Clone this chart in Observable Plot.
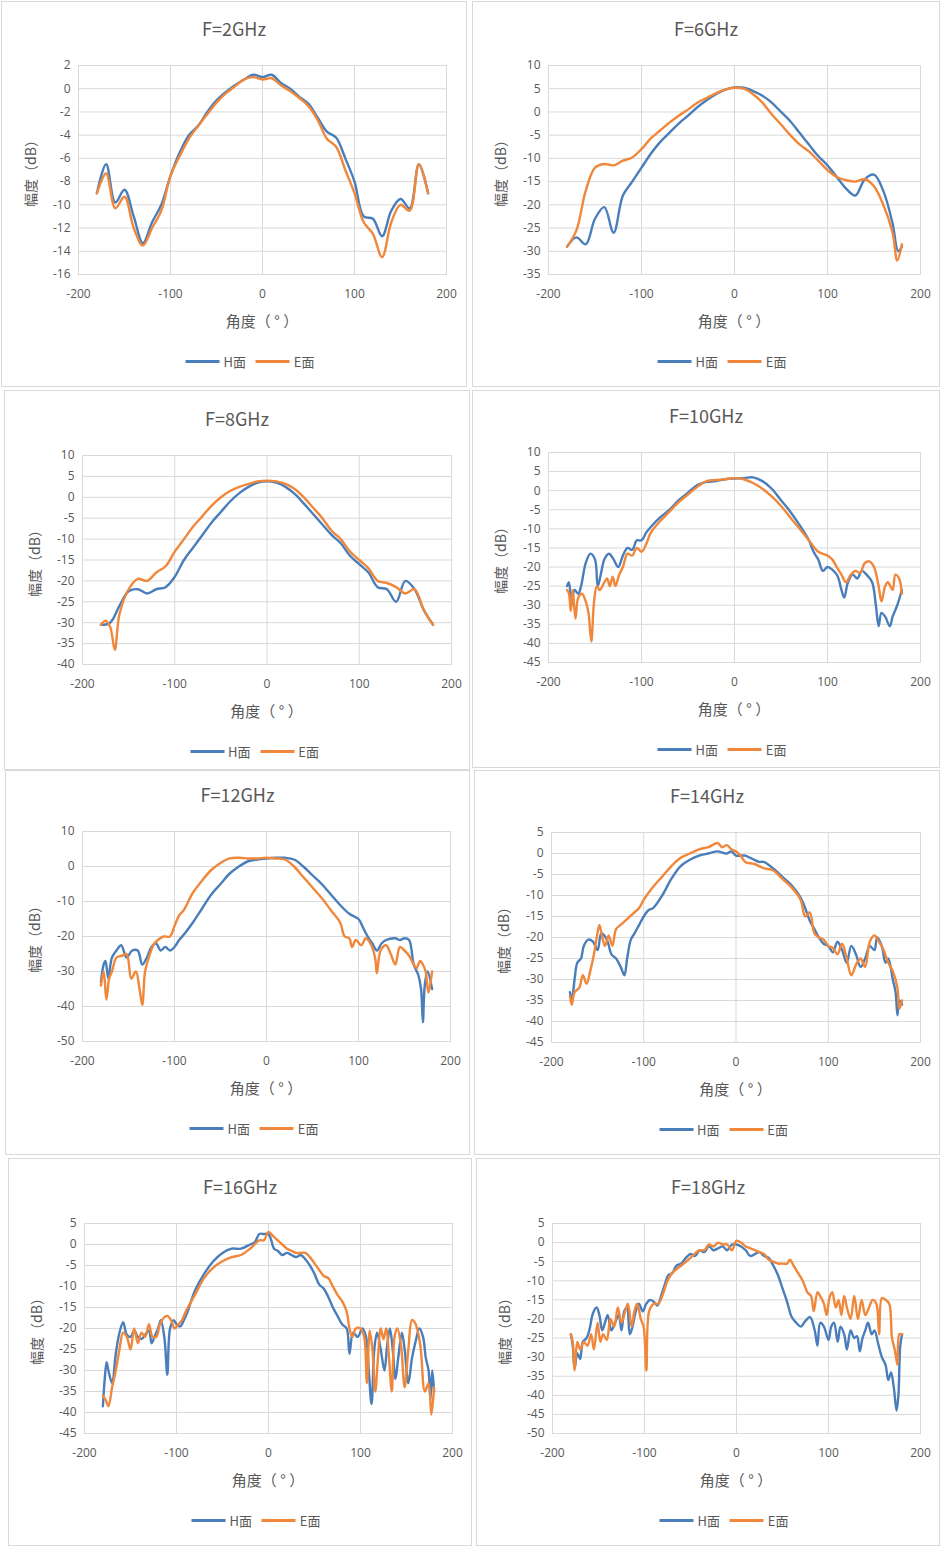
<!DOCTYPE html>
<html><head><meta charset="utf-8">
<script src="https://cdn.jsdelivr.net/npm/d3@7"></script>
<script src="https://cdn.jsdelivr.net/npm/@observablehq/plot@0.6"></script>
<style>
body{margin:0;background:#fff;font-family:"Noto Sans CJK SC","Open Sans",sans-serif;}
#root{position:relative;width:941px;height:1547px;}
.panel{position:absolute;border:1px solid #d9d9d9;box-sizing:border-box;}
.abs{position:absolute;color:#595959;white-space:nowrap;}
.title{font-size:18px;transform:translateX(-50%);}
.xl{font-size:15px;transform:translateX(-50%);}
.yl{font-size:14px;transform:translate(-50%,-50%) rotate(-90deg);}
.leg{font-size:13px;transform:translateX(-50%);display:flex;align-items:center;gap:4px;}
.sw{display:inline-block;width:34px;height:3px;}
</style></head><body><div id="root"></div>
<script>
const titles=["F=2GHz","F=6GHz","F=8GHz","F=10GHz","F=12GHz","F=14GHz","F=16GHz","F=18GHz"];
const seriesNames=["H面","E面"];
const xTicks=[-200,-100,0,100,200];
const yDomains=[[-16,2],[-35,10],[-40,10],[-45,10],[-50,10],[-45,5],[-45,5],[-50,5]];
const yStep=[2,5,5,5,10,5,5,5];

const h2=[[-180,-9],[-170,-6.5],[-160,-9.8],[-150,-8.7],[-140,-11],[-130,-13.3],[-120,-11.5],[-110,-10],[-100,-7.5],[-90,-5.5],[-80,-4],[-70,-3.2],[-60,-2],[-50,-1],[-40,-0.3],[-30,0.3],[-20,0.8],[-10,1.2],[0,1],[10,1.2],[20,0.5],[30,0],[40,-0.7],[50,-1.3],[60,-2.5],[70,-3.7],[80,-4.2],[90,-6],[100,-8],[110,-11],[120,-11.2],[130,-12.7],[140,-10.5],[150,-9.5],[160,-10.3],[170,-6.5],[180,-9]];
const e2=[[-180,-9],[-170,-7.3],[-160,-10.3],[-150,-9.3],[-140,-12],[-130,-13.5],[-120,-12],[-110,-10.5],[-100,-7.5],[-90,-5.8],[-80,-4.3],[-70,-3.2],[-60,-2.2],[-50,-1.2],[-40,-0.4],[-30,0.2],[-20,0.8],[-10,1.0],[0,0.8],[10,0.9],[20,0.3],[30,-0.2],[40,-0.8],[50,-1.5],[60,-2.7],[70,-4.3],[80,-5],[90,-7],[100,-9],[110,-11.5],[120,-12.5],[130,-14.5],[140,-11.5],[150,-10],[160,-10.5],[170,-6.5],[180,-9]];
const h6=[[-180,-29],[-170,-27],[-160,-28.5],[-150,-23],[-140,-20.5],[-130,-26],[-120,-18],[-110,-15],[-100,-12],[-90,-9],[-80,-6.5],[-70,-4.5],[-60,-2.5],[-50,-0.8],[-40,1],[-30,2.5],[-20,3.8],[-10,4.8],[0,5.3],[10,5.2],[20,4.5],[30,3.5],[40,2],[50,0],[60,-2],[70,-4.5],[80,-7],[90,-9.5],[100,-11.5],[110,-14],[120,-16.5],[130,-18],[140,-14.5],[150,-13.5],[160,-17],[170,-24],[176,-30],[180,-29]];
const e6=[[-180,-29],[-170,-25.5],[-160,-17],[-150,-12],[-140,-11.2],[-130,-11.5],[-120,-10.5],[-110,-9.8],[-100,-8],[-90,-5.7],[-80,-4],[-70,-2.3],[-60,-0.8],[-50,0.5],[-40,2],[-30,3],[-20,4],[-10,4.8],[0,5.2],[10,5],[20,3.8],[30,2],[40,-0.5],[50,-2.7],[60,-5],[70,-7],[80,-8.5],[90,-10.5],[100,-12.5],[110,-14],[120,-14.7],[130,-15],[140,-14.5],[150,-16],[160,-20],[170,-26],[175,-32],[180,-28.5]];
const h8=[[-180,-30.5],[-170,-30],[-160,-26],[-150,-22.5],[-140,-22],[-130,-23],[-120,-22],[-110,-21.5],[-100,-19],[-90,-15],[-80,-12],[-70,-9],[-60,-6],[-50,-3.5],[-40,-1],[-30,1],[-20,2.5],[-10,3.5],[0,3.8],[10,3.5],[20,2.5],[30,0.8],[40,-1.5],[50,-4],[60,-6.5],[70,-9],[80,-11],[90,-14],[100,-16],[110,-18],[120,-21.5],[130,-22],[140,-25],[150,-20],[160,-22],[170,-27],[180,-30.5]];
const e8=[[-180,-30.5],[-175,-29.5],[-170,-31],[-165,-36.5],[-160,-28],[-150,-22],[-140,-19.5],[-130,-20],[-120,-18],[-110,-16.5],[-100,-13],[-90,-10],[-80,-7],[-70,-4.5],[-60,-2],[-50,0],[-40,1.5],[-30,2.5],[-20,3.2],[-10,3.8],[0,4],[10,3.8],[20,3.2],[30,2],[40,0],[50,-2.5],[60,-5],[70,-8],[80,-10],[90,-13],[100,-15],[110,-17],[120,-20],[130,-20.5],[140,-21.5],[150,-23],[160,-22],[170,-27],[180,-30.5]];
const h10=[[-180,-25],[-178,-24],[-175,-30],[-172,-26],[-168,-27],[-165,-25],[-160,-19],[-155,-16.5],[-150,-18],[-147,-25],[-143,-21],[-140,-18],[-135,-16.5],[-130,-18],[-125,-20],[-120,-17],[-115,-15],[-110,-15.5],[-105,-13],[-100,-13],[-95,-11],[-90,-9.5],[-80,-7],[-70,-5],[-60,-2.5],[-50,-0.5],[-40,1.5],[-30,2.3],[-20,2.5],[-10,3],[0,3.2],[10,3.3],[20,3.5],[30,2.5],[40,0.5],[50,-2.5],[60,-5.5],[70,-9],[80,-13],[85,-16],[90,-18],[95,-21],[100,-20],[110,-22],[115,-26],[118,-28],[122,-24],[127,-22],[132,-23],[137,-21],[142,-22],[148,-24],[152,-30],[155,-35.5],[158,-32],[162,-33],[167,-35.5],[170,-33],[175,-30],[180,-26]];
const e10=[[-180,-26],[-178,-27],[-176,-31.5],[-174,-26],[-171,-33.5],[-168,-28],[-164,-27],[-160,-29],[-157,-32],[-154,-39.5],[-151,-29],[-148,-25],[-145,-26],[-140,-24],[-137,-23],[-134,-25],[-131,-22.5],[-128,-25],[-124,-22],[-120,-20],[-115,-16.5],[-110,-17],[-105,-15],[-100,-16],[-95,-14],[-90,-11],[-80,-8],[-70,-5.5],[-60,-3],[-50,-1],[-40,1],[-30,2.5],[-20,2.8],[-10,3],[0,3.3],[10,3],[20,2],[30,0.5],[40,-1.5],[50,-4],[60,-7],[70,-10],[80,-13],[90,-16],[100,-17],[105,-18],[110,-20],[115,-22],[120,-24],[125,-22],[130,-21],[135,-21.5],[140,-19],[145,-18.5],[150,-20],[155,-25],[158,-29],[162,-25],[165,-24],[170,-26],[173,-22],[177,-23],[180,-27]];
const h12=[[-180,-33],[-177,-28],[-175,-27],[-172,-32],[-168,-26],[-163,-24],[-158,-22.5],[-152,-26],[-146,-24],[-140,-24],[-135,-28],[-130,-26],[-125,-23],[-120,-22],[-115,-24],[-110,-23],[-105,-24],[-100,-23],[-95,-21],[-90,-19.5],[-80,-16],[-70,-12],[-60,-8],[-50,-5],[-40,-2],[-30,0],[-20,1.5],[-10,2],[0,2.3],[10,2.5],[20,2.5],[30,2],[40,0],[50,-2.5],[60,-5],[70,-8],[80,-11],[90,-13.5],[100,-15],[105,-17.5],[110,-20],[115,-22],[120,-24],[125,-22],[130,-21],[140,-20.5],[145,-21],[150,-20.5],[155,-21],[160,-28],[165,-31],[168,-35],[170,-44.5],[172,-34],[175,-30],[180,-35]];
const e12=[[-180,-34],[-177,-30],[-174,-38],[-171,-32],[-168,-30],[-163,-26],[-157,-25.5],[-152,-25],[-147,-32],[-142,-30],[-138,-35],[-135,-39.5],[-132,-30],[-128,-26],[-122,-22],[-118,-21],[-112,-20],[-105,-20],[-100,-17],[-95,-14],[-90,-12.5],[-80,-7.5],[-70,-4],[-60,-1],[-50,1],[-40,2.3],[-30,2.5],[-20,2.3],[-10,2.3],[0,2.5],[10,2.3],[20,2],[30,0],[40,-3],[50,-6],[60,-9],[70,-12.5],[80,-16],[85,-20],[90,-20.5],[93,-23],[97,-21],[103,-22.5],[108,-20.5],[113,-22],[118,-26],[120,-30.5],[124,-24],[130,-22.5],[135,-25],[140,-28],[145,-23],[150,-24],[155,-25.5],[160,-28],[163,-29],[167,-27],[170,-28],[173,-30],[176,-36],[180,-30]];
const h14=[[-180,-33],[-178,-35],[-175,-30],[-172,-26],[-168,-25],[-165,-22],[-160,-20.5],[-155,-21],[-150,-23],[-146,-19],[-140,-20.5],[-135,-24],[-130,-25],[-125,-27],[-121,-29],[-118,-25],[-114,-20.5],[-110,-19],[-105,-17],[-100,-15],[-95,-13.5],[-90,-13],[-80,-10],[-70,-6],[-60,-3],[-50,-1.5],[-40,-0.5],[-30,0],[-20,0.5],[-10,0],[-5,0.5],[0,-0.5],[10,-0.5],[15,-1],[20,-1.5],[25,-2],[30,-2],[40,-3.5],[50,-5.5],[60,-7.5],[70,-10.5],[75,-13],[80,-16],[85,-18],[90,-20],[95,-21.5],[100,-22],[105,-23.5],[110,-21],[115,-23],[120,-26],[125,-22],[130,-24],[135,-27],[140,-25],[145,-22],[150,-23],[153,-20],[158,-22],[162,-26],[165,-25],[170,-30],[173,-33],[175,-38.5],[177,-35],[180,-36]];
const e14=[[-180,-34],[-178,-36],[-175,-33],[-170,-32],[-166,-29],[-162,-31],[-158,-28],[-154,-24],[-151,-20],[-148,-17],[-145,-20],[-142,-22],[-138,-19.5],[-134,-22],[-130,-18],[-125,-17],[-120,-16],[-115,-15],[-110,-14],[-105,-13],[-100,-11],[-90,-8],[-80,-5.5],[-70,-3],[-60,-1],[-50,0],[-40,1],[-30,1.5],[-20,2.5],[-15,1.5],[-10,2],[-5,1],[0,0.5],[5,-0.5],[10,-2],[20,-2.5],[30,-3.5],[40,-4],[50,-6],[60,-8],[70,-11],[75,-15],[80,-14],[85,-19],[90,-20],[95,-20.5],[100,-22],[105,-22.5],[110,-24],[115,-21.5],[120,-25],[125,-29],[130,-26.5],[135,-25],[140,-27],[145,-21],[150,-19.5],[155,-21],[160,-23],[165,-26],[170,-28],[175,-32],[177,-37],[180,-35]];
const h16=[[-180,-38.5],[-178,-32],[-176,-28],[-174,-30],[-170,-33],[-166,-26],[-162,-21],[-158,-18.5],[-154,-21.5],[-150,-22],[-146,-20.5],[-142,-22],[-138,-22.5],[-134,-21.5],[-130,-20.5],[-127,-23.5],[-124,-22],[-120,-20],[-117,-18],[-113,-22.5],[-110,-31],[-107,-20],[-103,-18],[-100,-19],[-96,-19.5],[-92,-18],[-88,-16],[-80,-11],[-70,-7],[-60,-4],[-50,-2],[-40,-1],[-30,-1],[-20,0],[-15,0.5],[-10,2.5],[-5,2.5],[0,2.5],[3,1],[6,-1],[10,-1.5],[15,-2.5],[20,-2],[25,-2.5],[30,-3],[35,-2.5],[40,-3.5],[45,-5],[50,-7],[55,-9.5],[60,-10.5],[65,-12.5],[70,-15],[75,-17],[80,-19],[85,-20],[88,-26],[92,-21],[97,-22],[102,-20],[106,-22],[109,-30],[112,-38],[115,-25],[118,-21],[122,-25],[126,-30],[129,-24],[132,-20],[135,-25],[138,-32],[141,-27],[145,-21],[148,-25],[152,-33],[156,-27],[160,-23],[164,-20],[168,-22],[171,-27],[174,-30],[176,-37],[178,-30],[180,-35]];
const e16=[[-180,-36],[-177,-37],[-174,-38.5],[-170,-34],[-166,-30],[-162,-25],[-158,-21],[-154,-22],[-150,-25],[-146,-20],[-142,-23.5],[-138,-21],[-134,-22],[-130,-19],[-126,-22],[-122,-22],[-118,-19],[-114,-17.5],[-110,-17],[-106,-18],[-102,-20],[-98,-19],[-94,-18],[-90,-16],[-80,-12],[-70,-8],[-60,-5.5],[-50,-4],[-40,-3],[-30,-2.5],[-20,-1],[-10,1],[-5,1],[0,3],[5,2],[10,1],[15,0],[20,-1],[25,-1.5],[30,-2],[35,-2],[40,-2],[45,-3],[50,-4.5],[55,-6],[60,-7.5],[65,-8],[70,-10],[75,-12],[80,-13.5],[85,-16],[88,-20],[91,-22],[95,-20],[100,-20],[104,-22],[107,-33],[110,-20.5],[113,-25],[116,-35],[119,-27],[122,-20],[125,-22.5],[128,-20],[131,-27],[134,-35],[137,-22],[140,-20],[144,-24],[148,-34],[152,-25],[156,-18],[160,-19],[165,-24],[170,-35],[174,-33],[177,-40.5],[180,-34]];
const h18=[[-180,-24],[-178,-27],[-176,-33],[-173,-29],[-170,-30.5],[-167,-26],[-163,-25],[-160,-23],[-156,-18.5],[-152,-17],[-149,-19],[-146,-23],[-143,-21],[-140,-19],[-136,-23],[-132,-21],[-128,-19],[-125,-23],[-122,-18],[-119,-17],[-116,-24],[-113,-22],[-110,-18.5],[-106,-16],[-102,-18],[-98,-16],[-94,-15],[-90,-15.5],[-86,-16.5],[-82,-14],[-78,-11],[-74,-8.5],[-70,-8],[-65,-6],[-60,-5.5],[-55,-4],[-50,-3],[-45,-3.5],[-40,-2],[-35,-2.5],[-30,-1],[-25,-2],[-20,-1.5],[-15,-1],[-10,-2],[-5,-0.5],[0,-0.5],[5,-1],[10,-2],[15,-3.5],[20,-3],[25,-2.5],[30,-3.5],[35,-4],[40,-6],[45,-8.5],[50,-12],[55,-15.5],[60,-19.5],[65,-21],[70,-22],[75,-20.5],[80,-19.5],[85,-23],[88,-27],[91,-21],[95,-22],[100,-25.5],[103,-22],[106,-21],[110,-26],[113,-22],[117,-24],[120,-28],[124,-23],[128,-25],[131,-24.5],[134,-28.5],[137,-25],[140,-23],[143,-21],[147,-24],[150,-23],[154,-26.5],[158,-30],[162,-32],[165,-36],[168,-34],[171,-38],[174,-44],[176,-40],[178,-27],[180,-24]];
const e18=[[-180,-24],[-178,-26],[-176,-33.5],[-173,-26],[-170,-28],[-166,-26],[-162,-27],[-158,-24],[-155,-28],[-151,-21],[-148,-26],[-145,-24],[-141,-25.5],[-137,-20],[-133,-22],[-129,-17],[-125,-21],[-121,-18],[-118,-16],[-114,-22],[-111,-18],[-108,-16],[-104,-20],[-101,-22],[-98,-33.5],[-95,-18],[-90,-16],[-85,-16],[-80,-13.5],[-75,-10],[-70,-8],[-60,-6],[-50,-4],[-40,-2],[-35,-2],[-30,-0.5],[-25,-1],[-20,0],[-15,-0.5],[-10,-0.5],[-5,-2],[0,0.5],[5,0],[10,-1],[15,-1.5],[20,-2],[25,-2.5],[30,-3],[35,-4.5],[40,-5],[45,-5.5],[50,-5.5],[55,-5.5],[58,-4.5],[62,-6],[67,-8],[72,-10],[77,-13],[81,-14],[84,-18],[88,-13],[91,-14],[95,-16],[98,-19],[101,-14.5],[104,-13],[108,-17],[111,-15],[114,-19],[117,-14],[120,-17],[124,-20],[128,-14],[132,-20],[136,-15],[140,-19],[144,-17],[148,-15],[152,-16],[155,-24],[158,-14.5],[162,-15],[166,-16],[169,-25],[172,-28],[175,-32],[177,-24],[180,-24]];
const hSeries=[h2,h6,h8,h10,h12,h14,h16,h18];
const eSeries=[e2,e6,e8,e10,e12,e14,e16,e18];

const panels=[[1,1,466,386],[472,1,468,386],[4,390,466,380],[472,390,468,378],[5,770,465,385],[474,770,466,385],[8,1158,464,388],[476,1158,464,388]];
const plotRects=[[78,446,65,274],[548,920,65,274],[82,451,455,664],[548,920,452,662],[82,450,831,1041],[551,920,832,1042],[84,452,1223,1433],[552,920,1223,1433]];
const colors=["#4a7ebb","#f0873a"];
const root=document.getElementById("root");
function div(cls,x,y,html){const d=document.createElement("div");d.className="abs "+cls;d.style.left=x+"px";d.style.top=y+"px";d.innerHTML=html;root.appendChild(d);return d;}
panels.forEach((p,i)=>{
  const pd=document.createElement("div");pd.className="panel";
  Object.assign(pd.style,{left:p[0]+"px",top:p[1]+"px",width:p[2]+"px",height:p[3]+"px"});root.appendChild(pd);
  const [x0,x1,y0,y1]=plotRects[i];
  const ML=60,MR=20,MT=10,MB=34;
  const data=[...hSeries[i].map(([a,v])=>({a,v,s:seriesNames[0]})),...eSeries[i].map(([a,v])=>({a,v,s:seriesNames[1]}))];
  const [lo,hi]=yDomains[i];
  const svg=Plot.plot({
    width:x1-x0+ML+MR,height:y1-y0+MT+MB,marginLeft:ML,marginRight:MR,marginTop:MT,marginBottom:MB,
    style:{fontSize:"12px",color:"#595959",fontFamily:"'Open Sans',sans-serif",background:"transparent"},
    x:{domain:[-200,200],ticks:xTicks,tickSize:0,label:null,tickPadding:15,tickFormat:d=>String(d)},
    y:{domain:[lo,hi],ticks:d3.range(lo,hi+0.01,yStep[i]),tickSize:0,label:null,tickPadding:8,tickFormat:d=>String(d)},
    color:{domain:seriesNames,range:colors},
    marks:[
      Plot.gridY({ticks:d3.range(lo,hi+0.01,yStep[i]),stroke:"#d9d9d9",strokeOpacity:1}),
      Plot.gridX({ticks:xTicks,stroke:"#d9d9d9",strokeOpacity:1}),
      Plot.frame({stroke:"#d9d9d9"}),
      Plot.line(data,{x:"a",y:"v",z:"s",stroke:"s",strokeWidth:2.4,curve:"catmull-rom"})
    ]});
  svg.style.position="absolute";svg.style.left=(x0-ML)+"px";svg.style.top=(y0-MT)+"px";
  root.appendChild(svg);
  const cx=(x0+x1)/2;
  div("title",p[0]+p[2]/2,y0-50,titles[i]);
  div("xl",cx,y1+36,"角度（ °  ）");
  div("yl",x0-48,(y0+y1)/2,"幅度（dB）");
  div("leg",cx-12,y1+78,`<span class="sw" style="background:${colors[0]}"></span>${seriesNames[0]}&nbsp;&nbsp;<span class="sw" style="background:${colors[1]}"></span>${seriesNames[1]}`);
});
</script></body></html>
